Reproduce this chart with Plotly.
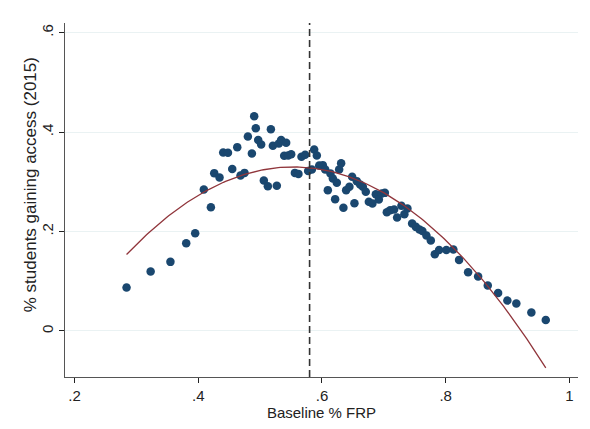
import numpy as np
import plotly.graph_objects as go

# Data
frp = [0.284, 0.323, 0.355, 0.3805, 0.395, 0.4204, 0.409, 0.4258, 0.4344, 0.4403,
       0.448, 0.4549, 0.463, 0.4683, 0.4748, 0.4802, 0.4867, 0.4904, 0.493, 0.4969,
       0.5017, 0.506, 0.5125, 0.5174, 0.5206, 0.527, 0.5303, 0.534, 0.5421, 0.5389,
       0.5454, 0.5502, 0.5562, 0.562, 0.5669, 0.5728, 0.5777, 0.5837, 0.5874, 0.5917,
       0.5955, 0.6014, 0.6052, 0.6095, 0.6137, 0.6176, 0.6213, 0.624, 0.6278, 0.631,
       0.6347, 0.6391, 0.6444, 0.6488, 0.6525, 0.6564, 0.6617, 0.6661, 0.6709, 0.6758,
       0.6816, 0.6871, 0.692, 0.6968, 0.7017, 0.7049, 0.7102, 0.7167, 0.7215, 0.7285,
       0.7333, 0.7382, 0.7458, 0.7518, 0.7576, 0.7624, 0.7689, 0.776, 0.7825, 0.7894,
       0.8012, 0.8125, 0.8217, 0.8363, 0.8525, 0.8681, 0.8848, 0.8998, 0.9143, 0.9386,
       0.9619]
access = [0.0874, 0.1196, 0.139, 0.1766, 0.1967, 0.249, 0.2847, 0.3175, 0.3088, 0.359,
          0.3584, 0.326, 0.3698, 0.3128, 0.318, 0.391, 0.357, 0.432, 0.408, 0.384,
          0.375, 0.3028, 0.2913, 0.406, 0.3725, 0.292, 0.377, 0.384, 0.3785, 0.3523,
          0.353, 0.3557, 0.318, 0.316, 0.3503, 0.3543, 0.322, 0.325, 0.365, 0.353,
          0.333, 0.3336, 0.325, 0.2833, 0.317, 0.3068, 0.2652, 0.298, 0.325, 0.3376,
          0.2477, 0.2833, 0.29, 0.31, 0.257, 0.3014, 0.2947, 0.29, 0.28, 0.2597,
          0.2565, 0.275, 0.2645, 0.2766, 0.2778, 0.239, 0.243, 0.2444, 0.2283, 0.2517,
          0.235, 0.2464, 0.2162, 0.2094, 0.204, 0.2013, 0.192, 0.182, 0.1544, 0.163,
          0.163, 0.1638, 0.143, 0.118, 0.1095, 0.0914, 0.0766, 0.0611, 0.0551, 0.037,
          0.0222]
threshold = 0.58
x_ticks = [0.2, 0.4, 0.6, 0.8, 1.0]
x_ticklabels = [".2", ".4", ".6", ".8", "1"]
y_ticks = [0, 0.2, 0.4, 0.6]
y_ticklabels = ["0", ".2", ".4", ".6"]
x_title = "Baseline % FRP"
y_title = "% students gaining access (2015)"

# Quadratic fit (as in Stata qfit)
coef = np.polyfit(frp, access, 2)
xf = np.linspace(min(frp), max(frp), 200)
yf = np.polyval(coef, xf)

fig = go.Figure()
fig.add_trace(go.Scatter(x=frp, y=access, mode="markers",
                         marker=dict(color="#1a476f", size=8.5, line=dict(width=0)),
                         showlegend=False, hoverinfo="x+y"))
fig.add_trace(go.Scatter(x=xf, y=yf, mode="lines",
                         line=dict(color="#90353b", width=1.3),
                         showlegend=False))

fig.add_shape(type="line", xref="x", yref="paper", x0=threshold, x1=threshold,
              y0=0, y1=1, line=dict(color="#333333", width=1.6, dash="7px,4px"))

fig.add_annotation(text=y_title, xref="paper", yref="paper", x=-0.068, y=0.542,
                   textangle=-90, showarrow=False, xanchor="center", yanchor="middle",
                   font=dict(size=17, color="#222222"))

font = "Liberation Sans, Arial, sans-serif"
fig.update_layout(
    width=582, height=421,
    margin=dict(l=57, r=12, t=15, b=52, autoexpand=False),
    paper_bgcolor="white", plot_bgcolor="white",
    font=dict(family=font, size=15, color="#222222"),
    xaxis=dict(range=[0.1845, 1.014], tickvals=x_ticks, ticktext=x_ticklabels,
               showgrid=False, zeroline=False, showline=True, linecolor="#555555",
               linewidth=1.2, ticks="outside", ticklen=5, tickcolor="#222222",
               tickfont=dict(size=15, color="#222222"),
               title=dict(text=x_title, font=dict(size=15), standoff=2)),
    yaxis=dict(range=[-0.0926, 0.6195], tickvals=y_ticks, ticktext=y_ticklabels,
               tickangle=-90, showgrid=True, gridcolor="#eaf2f3", gridwidth=1,
               zeroline=False, showline=True, linecolor="#555555", linewidth=1.2,
               ticks="outside", ticklen=5, tickcolor="#222222",
               tickfont=dict(size=15, color="#222222")),
)

fig.write_html("out.html")
